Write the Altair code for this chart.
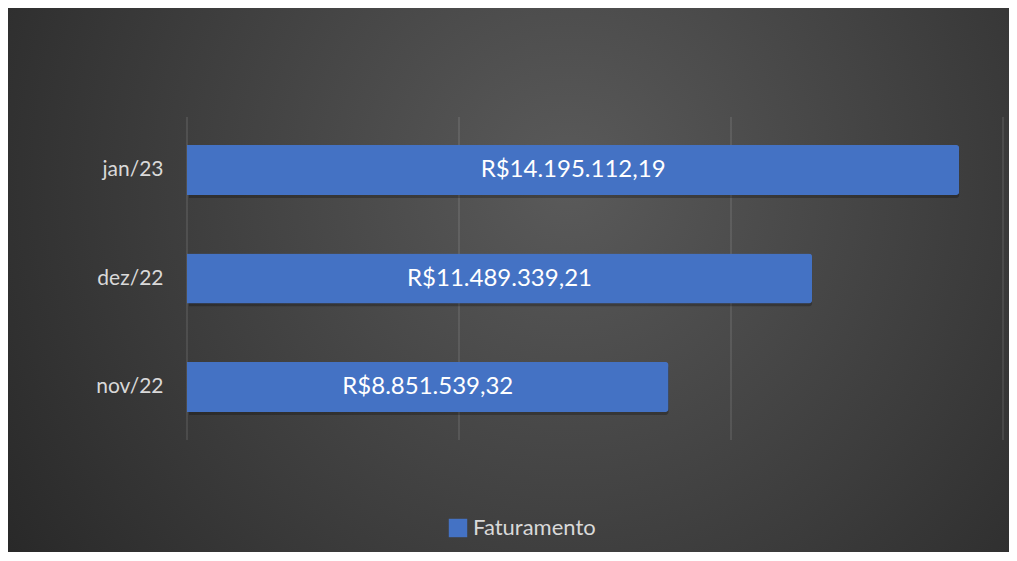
import altair as alt
import pandas as pd

months = ["jan/23", "dez/22", "nov/22"]
values = [14195112.19, 11489339.21, 8851539.32]
labels = ["R$14.195.112,19", "R$11.489.339,21", "R$8.851.539,32"]
series = ["Faturamento", "Faturamento", "Faturamento"]
tick_values = [0, 5000000, 10000000, 15000000]

df = pd.DataFrame({"mes": months, "valor": values, "rotulo": labels, "serie": series})
grid_df = pd.DataFrame({"t": tick_values})

W, H = 816, 323
PAD = {"left": 179, "top": 109, "right": 6, "bottom": 112}
FONT = "Lato"

bg = alt.Chart(df).mark_rect(
    fill=alt.Gradient(
        gradient="radial",
        stops=[alt.GradientStop(color="#5a5a5a", offset=0),
               alt.GradientStop(color="#3c3c3c", offset=0.55),
               alt.GradientStop(color="#232323", offset=1)],
        x1=0.56, y1=0.4, r1=0.0, x2=0.56, y2=0.4, r2=0.75,
    ),
    stroke=None,
).encode(
    x=alt.value(-PAD["left"]), x2=alt.value(W + PAD["right"]),
    y=alt.value(-PAD["top"]), y2=alt.value(H + PAD["bottom"]),
)

yscale = alt.Scale(domain=months, paddingInner=0.539, paddingOuter=0.258)
xscale = alt.Scale(domain=[0, 15000000], nice=False)
yaxis = alt.Axis(title=None, domain=False, ticks=False, labelFontSize=21,
                 labelColor="#d9d9d9", labelPadding=24, labelFont=FONT, zindex=1)
yenc = alt.Y("mes:N", scale=yscale, sort=months, axis=yaxis)

grid = alt.Chart(grid_df).mark_rule(color="#ffffff", opacity=0.13, strokeWidth=1.5).encode(
    x=alt.X("t:Q", scale=xscale, axis=None),
    y=alt.value(0), y2=alt.value(H),
)

base = alt.Chart(df)

shadow = base.mark_bar(color="black", opacity=0.25, xOffset=2, yOffset=3,
                       cornerRadiusTopRight=3, cornerRadiusBottomRight=3).encode(
    y=yenc,
    x=alt.X("valor:Q", scale=xscale, axis=None),
)

bars = base.mark_bar(cornerRadiusTopRight=3, cornerRadiusBottomRight=3).encode(
    y=yenc,
    x=alt.X("valor:Q", scale=xscale, axis=None),
    color=alt.Color("serie:N", scale=alt.Scale(domain=["Faturamento"], range=["#4472c4"]),
                    legend=alt.Legend(title=None, orient="none", legendX=260, legendY=400,
                                      symbolType="square", symbolSize=340,
                                      symbolStrokeWidth=0, symbolOpacity=1,
                                      labelFontSize=22, labelColor="#d9d9d9",
                                      labelFont=FONT, labelOffset=4, zindex=1)),
)

text = base.transform_calculate(meio="datum.valor / 2").mark_text(
    color="white", fontSize=24, font=FONT, baseline="middle", align="center"
).encode(
    y=yenc,
    x=alt.X("meio:Q", scale=xscale, axis=None),
    text="rotulo:N",
)

chart = alt.layer(bg, grid, shadow, bars, text).properties(
    width=W, height=H,
    autosize=alt.AutoSizeParams(type="none"),
    padding=PAD,
    background="white",
).configure_view(stroke=None)

chart.save("out.html", embed_options={"renderer": "svg", "actions": False})
